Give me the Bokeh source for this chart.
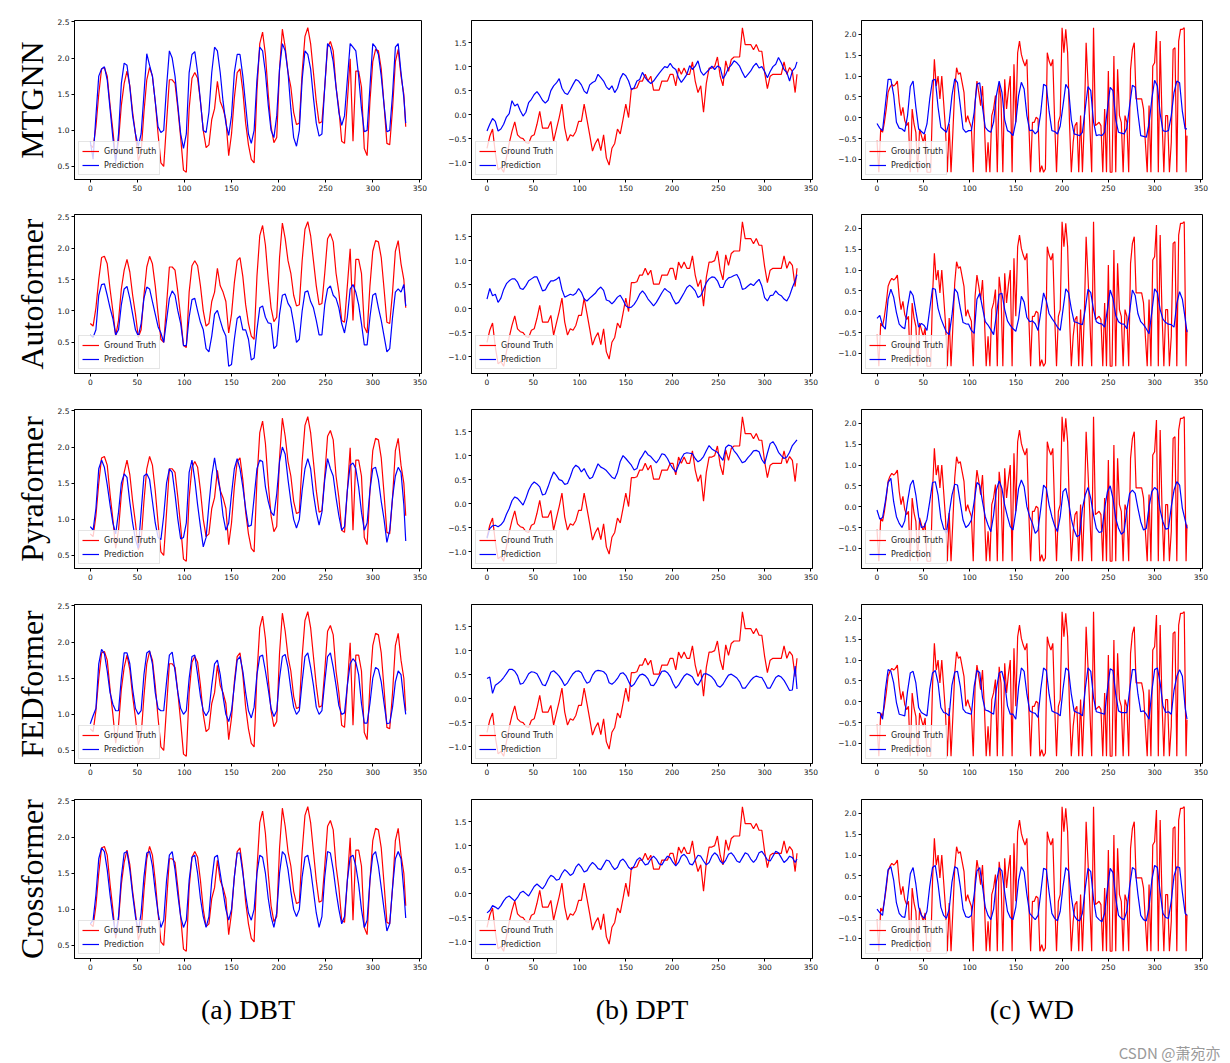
from bokeh.plotting import figure
from bokeh.layouts import gridplot
from bokeh.models import (Range1d, FixedTicker, CustomJSTickFormatter, Title,
                          Legend, LegendItem)
from bokeh.embed import file_html
from bokeh.resources import INLINE

# ---------------- data ----------------
models = ["MTGNN", "Autoformer", "Pyraformer", "FEDformer", "Crossformer"]
datasets = ["(a) DBT", "(b) DPT", "(c) WD"]
x_ticks = [0, 50, 100, 150, 200, 250, 300, 350]
y_ticks_dbt = [0.0, 0.5, 1.0, 1.5, 2.0, 2.5]
y_ticks_dpt = [-1.0, -0.5, 0.0, 0.5, 1.0, 1.5]
y_ticks_wd = [-1.0, -0.5, 0.0, 0.5, 1.0, 1.5, 2.0]
watermark = "CSDN @萧宛亦"

# time steps (sampled every 3 steps, plus the last step)
t3 = list(range(0, 334, 3)) + [335]
# time steps for the spiky WD ground truth (every 2 steps, plus the last step)
t2 = list(range(0, 335, 2)) + [335]

dbt_truth = [0.80, 0.76, 1.05, 1.50, 1.85, 1.87, 1.75, 1.35, 1.00, 0.60,
 0.85, 1.35, 1.65, 1.82, 1.62, 1.25, 0.95, 0.58,
 0.70, 1.25, 1.70, 1.87, 1.75, 1.40, 0.95, 0.55,
 0.50, 1.10, 1.70, 1.70, 1.65, 1.30, 0.90, 0.45,
 0.42, 1.30, 1.72, 1.80, 1.72, 1.40, 1.00, 0.76,
 0.80, 1.15, 1.30, 1.68, 1.40, 1.30, 1.15, 0.65,
 0.95, 1.45, 1.80, 1.85, 1.55, 1.10, 0.80, 0.60,
 0.55, 1.55, 2.20, 2.36, 2.05, 1.50, 1.05, 0.83,
 0.90, 1.85, 2.40, 2.15, 1.80, 1.60, 1.25, 1.08,
 1.10, 1.80, 2.30, 2.42, 2.20, 1.80, 1.40, 1.10,
 1.12, 1.60, 2.15, 2.23, 2.10, 1.60, 1.30, 0.85,
 0.82, 1.40, 1.99, 0.85, 1.82, 1.82, 1.60, 0.75,
 0.65, 1.40, 1.95, 2.12, 2.10, 1.85, 1.35, 0.82,
 0.80, 1.30, 1.95, 2.12, 1.75, 1.50, 1.05]

mtgnn_dbt = [0.85, 0.60, 1.20, 1.75, 1.85, 1.88, 1.70, 1.30, 0.90, 0.55,
 0.95, 1.65, 1.93, 1.90, 1.60, 1.20, 0.95, 0.78,
 0.95, 1.50, 2.06, 1.90, 1.75, 1.40, 1.05, 0.97,
 1.00, 1.60, 2.10, 2.00, 1.75, 1.35, 0.95, 0.75,
 0.95, 1.80, 2.05, 2.09, 1.80, 1.40, 1.00, 0.97,
 1.25, 1.80, 2.15, 2.10, 1.80, 1.40, 1.10, 0.93,
 1.20, 1.80, 2.05, 2.05, 1.75, 1.35, 0.95, 0.82,
 1.00, 1.70, 2.15, 2.10, 1.80, 1.35, 1.00, 0.90,
 1.20, 1.85, 2.20, 2.10, 1.80, 1.30, 0.90, 0.78,
 1.00, 1.70, 2.10, 2.05, 1.85, 1.45, 1.10, 0.92,
 0.95, 1.60, 2.20, 2.15, 1.95, 1.60, 1.25, 1.07,
 1.20, 1.70, 2.20, 2.15, 2.10, 1.75, 1.30, 0.98,
 1.00, 1.60, 2.20, 2.15, 2.05, 1.75, 1.35, 0.98,
 1.00, 1.50, 2.15, 2.20, 1.80, 1.45, 1.10]

auto_dbt = [0.62, 0.58, 0.70, 1.25, 1.42, 1.43, 1.25, 1.05, 0.88, 0.62,
 0.70, 1.10, 1.35, 1.39, 1.20, 0.95, 0.70, 0.60,
 0.80, 1.20, 1.38, 1.35, 1.15, 0.95, 0.75, 0.65,
 0.50, 0.85, 1.20, 1.32, 1.25, 1.00, 0.80, 0.45,
 0.45, 0.90, 1.18, 1.20, 1.00, 0.82, 0.70, 0.40,
 0.35, 0.60, 0.95, 1.01, 0.85, 0.70, 0.60, 0.12,
 0.15, 0.55, 0.88, 0.92, 0.70, 0.70, 0.55, 0.22,
 0.25, 0.70, 1.05, 1.08, 0.90, 0.81, 0.80, 0.40,
 0.45, 0.95, 1.25, 1.27, 1.12, 1.05, 0.80, 0.50,
 0.55, 1.00, 1.30, 1.32, 1.15, 1.05, 0.85, 0.62,
 0.62, 1.10, 1.35, 1.40, 1.25, 1.20, 1.05, 0.80,
 0.65, 0.90, 1.35, 1.42, 1.30, 1.10, 0.80, 0.46,
 0.46, 0.90, 1.25, 1.28, 1.05, 0.85, 0.60, 0.35,
 0.40, 0.90, 1.30, 1.35, 1.30, 1.42, 1.08]

pyra_dbt = [0.90, 0.85, 1.15, 1.70, 1.82, 1.72, 1.48, 1.20, 0.95, 0.80,
 1.10, 1.50, 1.63, 1.58, 1.24, 0.95, 0.72, 0.60,
 1.10, 1.60, 1.63, 1.55, 1.25, 0.95, 0.75, 0.72,
 1.05, 1.50, 1.70, 1.65, 1.35, 1.00, 0.73, 0.75,
 0.95, 1.65, 1.82, 1.55, 1.20, 0.90, 0.62, 0.75,
 1.20, 1.60, 1.85, 1.60, 1.40, 1.05, 0.85, 0.95,
 1.35, 1.70, 1.84, 1.70, 1.45, 1.15, 0.90, 0.92,
 1.30, 1.70, 1.82, 1.80, 1.45, 1.25, 1.10, 1.05,
 1.35, 1.80, 2.00, 1.90, 1.55, 1.25, 1.00, 0.88,
 1.00, 1.40, 1.70, 1.84, 1.70, 1.35, 1.10, 0.92,
 1.10, 1.55, 1.84, 1.70, 1.60, 1.30, 1.05, 0.85,
 0.90, 1.40, 1.75, 1.78, 1.70, 1.45, 1.10, 0.85,
 0.95, 1.40, 1.70, 1.72, 1.55, 1.25, 1.00, 0.68,
 0.85, 1.30, 1.60, 1.72, 1.65, 1.20, 0.70]

fed_dbt = [0.87, 0.98, 1.08, 1.70, 1.90, 1.84, 1.60, 1.30, 1.14, 1.05,
 1.05, 1.50, 1.85, 1.85, 1.70, 1.35, 1.08, 1.00,
 1.05, 1.55, 1.85, 1.88, 1.70, 1.30, 1.08, 1.05,
 1.05, 1.45, 1.82, 1.86, 1.60, 1.30, 1.08, 1.00,
 1.05, 1.50, 1.80, 1.82, 1.55, 1.25, 1.05, 0.98,
 1.05, 1.40, 1.70, 1.75, 1.55, 1.25, 1.00, 0.90,
 1.05, 1.40, 1.75, 1.80, 1.60, 1.30, 1.05, 0.95,
 1.10, 1.55, 1.80, 1.82, 1.60, 1.35, 1.08, 0.97,
 1.05, 1.50, 1.80, 1.83, 1.65, 1.35, 1.10, 1.00,
 1.05, 1.45, 1.80, 1.85, 1.65, 1.40, 1.10, 1.00,
 1.05, 1.45, 1.80, 1.85, 1.65, 1.40, 1.12, 1.00,
 1.02, 1.40, 1.70, 1.77, 1.72, 1.55, 1.15, 0.88,
 0.88, 1.15, 1.50, 1.65, 1.62, 1.45, 1.15, 0.87,
 0.88, 1.10, 1.45, 1.60, 1.55, 1.20, 1.00]

cross_dbt = [0.80, 0.85, 1.20, 1.70, 1.85, 1.80, 1.55, 1.20, 0.90, 0.65,
 0.90, 1.45, 1.78, 1.80, 1.55, 1.20, 0.90, 0.70,
 0.95, 1.45, 1.78, 1.80, 1.60, 1.25, 0.95, 0.75,
 0.85, 1.40, 1.75, 1.80, 1.55, 1.20, 0.90, 0.75,
 0.85, 1.40, 1.72, 1.75, 1.50, 1.15, 0.90, 0.75,
 0.90, 1.40, 1.72, 1.75, 1.50, 1.25, 1.00, 0.85,
 1.00, 1.45, 1.78, 1.78, 1.50, 1.20, 0.95, 0.85,
 1.00, 1.50, 1.75, 1.72, 1.50, 1.15, 0.90, 0.75,
 0.95, 1.50, 1.80, 1.75, 1.55, 1.25, 1.00, 0.90,
 1.00, 1.45, 1.72, 1.75, 1.55, 1.25, 0.95, 0.75,
 0.90, 1.45, 1.80, 1.78, 1.55, 1.25, 1.00, 0.80,
 0.90, 1.40, 1.72, 1.75, 1.60, 1.35, 1.00, 0.75,
 0.85, 1.40, 1.75, 1.80, 1.60, 1.30, 1.00, 0.70,
 0.80, 1.30, 1.70, 1.80, 1.70, 1.25, 0.88]

dpt_truth = [-0.70, -0.45, -0.30, -0.80, -1.15, -1.10, -1.20, -0.90, -0.60, -0.35,
 -0.15, -0.42, -0.48, -0.50, -0.58, -0.60, -0.45, -0.42,
 -0.20, 0.07, -0.28, -0.28, -0.28, -0.14, -0.55, -0.30,
 -0.06, 0.22, -0.28, -0.55, -0.42, -0.45, -0.35, -0.14,
 -0.14, 0.22, -0.10, -0.42, -0.76, -0.60, -0.50, -0.75,
 -0.42, -0.90, -1.05, -0.70, -0.60, -0.30, -0.40, -0.10,
 0.22, -0.06, 0.54, 0.54, 0.56, 0.70, 0.70, 0.84,
 0.70, 0.80, 0.51, 0.51, 0.51, 0.70, 0.70, 0.70,
 0.84, 0.84, 0.60, 0.97, 0.84, 0.97, 0.84, 0.84,
 1.10, 0.70, 0.46, 0.60, 0.05, 0.65, 0.97, 0.97,
 1.00, 1.20, 0.80, 0.60, 1.12, 0.90, 1.15, 1.20,
 1.20, 1.20, 1.81, 1.46, 1.46, 1.46, 1.35, 1.46,
 1.32, 1.32, 0.88, 0.54, 0.80, 0.84, 0.84, 0.84,
 0.84, 1.10, 0.84, 0.98, 0.90, 0.46, 0.84]

mtgnn_dpt = [-0.34, -0.20, -0.08, -0.14, -0.34, -0.30, -0.20, -0.05, 0.02, 0.29,
 0.18, 0.22, 0.08, -0.03, 0.05, 0.25, 0.32, 0.42,
 0.48, 0.40, 0.30, 0.24, 0.30, 0.50, 0.60, 0.66,
 0.75, 0.55, 0.45, 0.42, 0.52, 0.63, 0.73, 0.70,
 0.62, 0.49, 0.44, 0.62, 0.67, 0.70, 0.84, 0.77,
 0.70, 0.58, 0.52, 0.60, 0.46, 0.55, 0.75, 0.86,
 0.81, 0.70, 0.52, 0.56, 0.70, 0.73, 0.88, 0.77,
 0.70, 0.65, 0.70, 0.78, 0.86, 0.93, 1.00, 0.98,
 1.07, 0.98, 0.94, 0.77, 0.67, 0.75, 0.84, 1.02,
 0.94, 1.01, 1.12, 0.90, 0.82, 0.88, 0.94, 1.01,
 0.94, 1.01, 0.98, 0.75, 0.84, 0.97, 1.03, 1.12,
 1.08, 1.01, 0.88, 0.77, 0.84, 0.91, 1.01, 1.07,
 0.97, 1.00, 0.90, 0.77, 0.90, 1.00, 1.05, 1.19,
 1.08, 0.94, 0.88, 0.70, 0.91, 0.98, 1.10]

auto_dpt = [0.20, 0.42, 0.27, 0.30, 0.13, 0.22, 0.40, 0.52, 0.58, 0.62,
 0.62, 0.55, 0.42, 0.40, 0.48, 0.58, 0.62, 0.66,
 0.66, 0.52, 0.37, 0.39, 0.50, 0.58, 0.58, 0.61,
 0.66, 0.40, 0.24, 0.27, 0.30, 0.28, 0.32, 0.42,
 0.34, 0.20, 0.16, 0.22, 0.27, 0.32, 0.40, 0.45,
 0.38, 0.18, 0.16, 0.10, 0.16, 0.24, 0.28, 0.18,
 0.06, 0.02, 0.03, 0.09, 0.18, 0.30, 0.37, 0.30,
 0.20, 0.13, 0.06, 0.13, 0.23, 0.33, 0.42, 0.37,
 0.33, 0.20, 0.10, 0.13, 0.23, 0.33, 0.44, 0.49,
 0.44, 0.37, 0.23, 0.27, 0.40, 0.54, 0.62, 0.66,
 0.65, 0.58, 0.44, 0.44, 0.58, 0.64, 0.66, 0.69,
 0.71, 0.60, 0.40, 0.42, 0.47, 0.52, 0.48, 0.55,
 0.61, 0.47, 0.23, 0.16, 0.27, 0.28, 0.37, 0.30,
 0.27, 0.20, 0.16, 0.27, 0.44, 0.58, 0.71]

pyra_dpt = [-0.72, -0.52, -0.46, -0.45, -0.48, -0.44, -0.37, -0.22, -0.10, 0.06,
 0.14, 0.11, 0.04, -0.03, 0.11, 0.28, 0.39, 0.45,
 0.41, 0.35, 0.18, 0.20, 0.35, 0.52, 0.66, 0.59,
 0.50, 0.48, 0.40, 0.42, 0.56, 0.73, 0.80, 0.76,
 0.66, 0.73, 0.61, 0.52, 0.55, 0.69, 0.83, 0.76,
 0.73, 0.69, 0.62, 0.55, 0.52, 0.65, 0.88, 1.00,
 0.94, 0.87, 0.80, 0.70, 0.73, 0.91, 1.00, 1.10,
 1.02, 0.98, 0.91, 0.85, 0.93, 1.04, 1.02, 0.94,
 0.82, 0.73, 0.66, 0.80, 0.94, 1.04, 1.06, 1.05,
 1.04, 0.94, 0.87, 0.91, 0.98, 1.10, 1.21, 1.14,
 1.10, 1.07, 0.98, 0.90, 1.17, 1.22, 1.20, 1.10,
 1.03, 0.94, 0.85, 0.88, 0.96, 1.02, 1.10, 1.11,
 1.08, 0.92, 0.83, 1.05, 1.25, 1.29, 1.20, 1.07,
 1.00, 0.94, 0.97, 1.07, 1.21, 1.28, 1.33]

fed_dpt = [0.42, 0.45, 0.11, 0.28, 0.32, 0.37, 0.44, 0.52, 0.61, 0.61,
 0.57, 0.48, 0.30, 0.32, 0.41, 0.52, 0.56, 0.55,
 0.52, 0.41, 0.29, 0.27, 0.40, 0.55, 0.58, 0.53,
 0.47, 0.38, 0.27, 0.33, 0.43, 0.52, 0.57, 0.58,
 0.54, 0.42, 0.32, 0.35, 0.49, 0.57, 0.59, 0.58,
 0.56, 0.50, 0.33, 0.30, 0.35, 0.42, 0.52, 0.54,
 0.48, 0.36, 0.25, 0.30, 0.40, 0.49, 0.51, 0.48,
 0.41, 0.28, 0.27, 0.35, 0.47, 0.57, 0.58, 0.54,
 0.46, 0.32, 0.22, 0.28, 0.38, 0.47, 0.52, 0.49,
 0.45, 0.33, 0.28, 0.38, 0.51, 0.52, 0.49, 0.45,
 0.38, 0.27, 0.24, 0.30, 0.40, 0.49, 0.51, 0.47,
 0.43, 0.35, 0.22, 0.22, 0.30, 0.38, 0.44, 0.47,
 0.45, 0.44, 0.34, 0.22, 0.22, 0.33, 0.44, 0.48,
 0.45, 0.38, 0.28, 0.17, 0.18, 0.68, 0.20]

cross_dpt = [-0.40, -0.35, -0.25, -0.28, -0.32, -0.25, -0.15, -0.08, -0.05, -0.10,
 -0.15, -0.08, 0.02, 0.05, 0.00, -0.05, 0.05, 0.15,
 0.20, 0.15, 0.10, 0.18, 0.30, 0.38, 0.35, 0.28,
 0.30, 0.42, 0.50, 0.45, 0.38, 0.42, 0.55, 0.62,
 0.55, 0.45, 0.48, 0.58, 0.65, 0.60, 0.52, 0.50,
 0.60, 0.70, 0.68, 0.58, 0.50, 0.55, 0.68, 0.72,
 0.65, 0.55, 0.50, 0.58, 0.70, 0.75, 0.68, 0.60,
 0.62, 0.72, 0.78, 0.72, 0.62, 0.60, 0.70, 0.78,
 0.75, 0.65, 0.58, 0.65, 0.78, 0.82, 0.75, 0.62,
 0.60, 0.70, 0.80, 0.78, 0.68, 0.60, 0.65, 0.78,
 0.85, 0.80, 0.68, 0.62, 0.70, 0.82, 0.85, 0.78,
 0.68, 0.65, 0.75, 0.85, 0.82, 0.72, 0.65, 0.72,
 0.85, 0.88, 0.80, 0.70, 0.68, 0.78, 0.88, 0.85,
 0.75, 0.65, 0.70, 0.78, 0.75, 0.65, 0.72]

wd_truth = [-0.55, -1.31, -0.27, -0.35, -0.11, 0.21, 0.61, 0.73, 0.80, 0.76,
 0.80, 0.88, 0.37, 0.05, 0.25, -0.07, -0.19, -0.11, -1.31, 0.21,
 -0.15, -0.35, -1.31, -0.27, -0.43, -0.59, -0.39, -1.31, -1.31, -1.31,
 0.37, 1.40, 0.76, 1.00, 0.45, 1.00, 0.37, -0.27, -1.31, -0.15,
 -1.31, -0.35, 0.69, 1.20, 1.04, 1.08, 0.84, 0.61, -0.11, 0.05,
 -0.11, -0.23, -1.31, 0.37, 0.88, 0.61, 0.29, 0.76, -0.11, -1.31,
 -0.59, -1.31, 0.05, 0.21, 0.53, -1.31, 0.84, 0.45, -1.31, 0.92,
 0.21, 0.65, 1.00, -1.31, 1.28, -0.11, 1.56, 1.84, 1.52, 1.36,
 1.24, 1.40, -0.11, -1.31, -0.11, -0.11, 0.01, -0.03, -1.31, -1.15,
 -1.31, -1.23, 1.56, 1.36, 1.24, 1.40, -0.11, -1.31, -0.11, 0.05,
 2.16, 1.56, 2.12, 1.56, -0.11, -1.31, -0.59, -0.19, -0.11, -1.31,
 0.05, -1.31, -0.11, 1.80, 0.84, -0.19, -1.31, 2.16, -0.19, -0.15,
 -0.11, -0.19, -1.31, 0.21, -1.31, 1.12, -1.31, -1.31, 1.48, -1.31,
 1.16, 0.05, -0.11, -1.31, 0.05, -0.11, -1.31, 1.16, 1.64, 1.80,
 0.45, 0.45, 0.45, 0.45, 0.21, -0.59, -1.31, 0.29, -1.31, 1.24,
 1.32, 2.08, -1.31, 1.84, -0.03, -1.31, 0.05, 0.05, -1.31, -0.59,
 1.64, 1.68, -1.31, 1.84, 2.12, 2.12, 2.16, -1.31,
 -0.43]

mtgnn_wd = [-0.14, -0.25, -0.31, 0.30, 0.92, 0.92, 0.55, -0.11, -0.25, -0.27,
 -0.33, 0.05, 0.75, 0.88, 0.25, -0.27, -0.33, -0.39,
 -0.15, 0.45, 0.90, 0.92, 0.25, -0.23, -0.29, -0.35,
 -0.10, 0.53, 0.93, 0.84, 0.30, -0.27, -0.35, -0.31,
 -0.31, 0.13, 0.80, 0.84, 0.25, -0.23, -0.31, -0.35,
 -0.10, 0.53, 0.88, 0.61, -0.05, -0.31, -0.35, -0.43,
 -0.10, 0.53, 0.85, 0.69, 0.05, -0.31, -0.30, -0.39,
 -0.32, 0.13, 0.80, 0.76, 0.15, -0.31, -0.33, -0.39,
 -0.20, 0.29, 0.80, 0.69, -0.05, -0.39, -0.41, -0.43,
 -0.35, 0.21, 0.75, 0.65, -0.10, -0.43, -0.41, -0.43,
 -0.35, 0.21, 0.73, 0.65, -0.05, -0.35, -0.37, -0.39,
 -0.25, 0.29, 0.78, 0.73, 0.10, -0.43, -0.45, -0.47,
 -0.15, 0.45, 0.90, 0.76, 0.10, -0.31, -0.33, -0.31,
 0.05, 0.61, 0.88, 0.84, 0.15, -0.27, -0.27]

auto_wd = [-0.16, -0.09, -0.33, -0.42, 0.30, 0.54, 0.35, -0.02, -0.30, -0.37,
 -0.41, 0.11, 0.50, 0.39, 0.00, -0.37, -0.28, -0.33,
 -0.45, 0.06, 0.56, 0.54, 0.08, -0.16, -0.33, -0.49,
 -0.55, -0.09, 0.55, 0.46, 0.08, -0.26, -0.29, -0.30,
 -0.45, -0.52, 0.30, 0.44, 0.10, -0.24, -0.32, -0.43,
 -0.55, -0.09, 0.42, 0.44, 0.05, -0.22, -0.33, -0.41,
 -0.47, -0.18, 0.37, 0.23, -0.14, -0.24, -0.22, -0.29,
 -0.45, -0.01, 0.45, 0.26, -0.05, -0.16, -0.26, -0.37,
 -0.45, 0.05, 0.55, 0.46, 0.07, -0.24, -0.26, -0.29,
 -0.31, 0.05, 0.54, 0.46, 0.05, -0.24, -0.28, -0.29,
 -0.37, 0.05, 0.52, 0.32, -0.09, -0.24, -0.29, -0.30,
 -0.41, -0.01, 0.52, 0.39, -0.05, -0.24, -0.31, -0.41,
 -0.53, -0.01, 0.55, 0.46, 0.05, -0.18, -0.26, -0.30,
 -0.31, -0.37, 0.20, 0.48, 0.30, -0.16, -0.49]

pyra_wd = [-0.08, -0.30, -0.26, 0.12, 0.58, 0.68, 0.12, -0.24, -0.40, -0.50,
 -0.34, 0.12, 0.52, 0.64, 0.28, -0.24, -0.50, -0.48,
 -0.30, 0.12, 0.58, 0.60, 0.28, -0.28, -0.52, -0.64,
 -0.16, 0.28, 0.54, 0.52, 0.10, -0.32, -0.50, -0.44,
 -0.32, 0.12, 0.58, 0.52, 0.12, -0.24, -0.44, -0.60,
 -0.20, 0.40, 0.62, 0.44, 0.04, -0.24, -0.48, -0.56,
 -0.12, 0.44, 0.64, 0.48, 0.00, -0.24, -0.40, -0.64,
 -0.56, -0.04, 0.52, 0.44, 0.04, -0.24, -0.46, -0.60,
 -0.24, 0.36, 0.44, 0.12, -0.30, -0.56, -0.72, -0.68,
 -0.04, 0.28, 0.46, 0.20, -0.20, -0.52, -0.62, -0.60,
 -0.04, 0.36, 0.50, 0.20, -0.28, -0.52, -0.66, -0.60,
 -0.08, 0.32, 0.40, 0.32, -0.04, -0.36, -0.56, -0.52,
 0.00, 0.36, 0.46, 0.40, -0.08, -0.36, -0.54, -0.52,
 0.00, 0.40, 0.60, 0.52, -0.04, -0.32, -0.52]

fed_wd = [-0.26, -0.26, -0.42, 0.28, 0.77, 0.73, 0.45, -0.02, -0.30, -0.32,
 -0.34, 0.25, 0.69, 0.73, 0.45, -0.14, -0.26, -0.30,
 -0.34, 0.30, 0.69, 0.75, 0.45, -0.14, -0.26, -0.28,
 -0.34, 0.40, 0.71, 0.73, 0.37, -0.18, -0.26, -0.28,
 -0.30, 0.37, 0.75, 0.70, 0.10, -0.20, -0.22, -0.26,
 -0.30, 0.30, 0.69, 0.73, 0.45, -0.10, -0.30, -0.30,
 -0.42, 0.35, 0.81, 0.73, 0.18, -0.22, -0.26, -0.28,
 -0.38, 0.30, 0.81, 0.75, 0.18, -0.22, -0.26, -0.28,
 -0.34, 0.30, 0.81, 0.75, 0.18, -0.22, -0.26, -0.28,
 -0.34, 0.30, 0.81, 0.73, 0.10, -0.24, -0.26, -0.28,
 -0.30, 0.30, 0.79, 0.75, 0.18, -0.22, -0.26, -0.26,
 -0.26, 0.28, 0.77, 0.77, 0.18, -0.24, -0.22, -0.30,
 -0.42, 0.25, 0.77, 0.81, 0.45, -0.10, -0.26, -0.24,
 -0.30, 0.28, 0.61, 0.77, 0.61, -0.14, -0.42]

cross_wd = [-0.30, -0.38, -0.45, 0.10, 0.65, 0.72, 0.40, -0.15, -0.40, -0.48,
 -0.50, -0.05, 0.55, 0.70, 0.30, -0.25, -0.45, -0.52,
 -0.35, 0.25, 0.70, 0.75, 0.30, -0.25, -0.45, -0.52,
 -0.30, 0.35, 0.72, 0.68, 0.25, -0.30, -0.48, -0.50,
 -0.45, 0.05, 0.62, 0.70, 0.25, -0.25, -0.45, -0.55,
 -0.30, 0.35, 0.70, 0.62, 0.10, -0.35, -0.50, -0.55,
 -0.25, 0.40, 0.72, 0.60, 0.05, -0.40, -0.48, -0.55,
 -0.45, 0.10, 0.68, 0.65, 0.10, -0.40, -0.52, -0.58,
 -0.35, 0.25, 0.70, 0.62, 0.00, -0.45, -0.55, -0.58,
 -0.40, 0.20, 0.68, 0.60, -0.05, -0.48, -0.55, -0.60,
 -0.40, 0.20, 0.68, 0.58, -0.05, -0.45, -0.52, -0.55,
 -0.35, 0.25, 0.70, 0.65, 0.05, -0.45, -0.55, -0.58,
 -0.25, 0.40, 0.75, 0.70, 0.10, -0.40, -0.50, -0.52,
 -0.10, 0.50, 0.72, 0.70, 0.10, -0.40, -0.45]

truths = [(t3, dbt_truth), (t3, dpt_truth), (t2, wd_truth)]
preds = [
    [mtgnn_dbt, mtgnn_dpt, mtgnn_wd],
    [auto_dbt, auto_dpt, auto_wd],
    [pyra_dbt, pyra_dpt, pyra_wd],
    [fed_dbt, fed_dpt, fed_wd],
    [cross_dbt, cross_dpt, cross_wd],
]
y_ticks = [y_ticks_dbt, y_ticks_dpt, y_ticks_wd]

# ---------------- layout ----------------
COL_W = [440, 390, 392]
COL_BL = [74, 31, 31]
COL_BR = [19, 18, 20]
FRAME_H = 159
TICK_FMT = CustomJSTickFormatter(code="return tick.toFixed(1).replace('-', '\u2212');")


def panel(r, c):
    tg, gt = truths[c]
    pr = preds[r][c]
    xs_g = tg[:len(gt)]
    gt = gt[:len(xs_g)]
    xs_p = t3[:len(pr)]
    pr = pr[:len(xs_p)]
    lo = min(min(gt), min(pr))
    hi = max(max(gt), max(pr))
    pad = 0.05 * (hi - lo)
    x_lo, x_hi = 0, 335
    xpad = 0.05 * (x_hi - x_lo)
    last = (r == 4)
    top = 20 if r == 0 else 11
    bottom = 24 if r == 0 else (104 if last else 25)
    p = figure(width=COL_W[c], height=top + FRAME_H + bottom,
               output_backend="svg", toolbar_location=None,
               x_range=Range1d(x_lo - xpad, x_hi + xpad),
               y_range=Range1d(lo - pad, hi + pad),
               min_border_left=COL_BL[c], min_border_right=COL_BR[c],
               min_border_top=top, min_border_bottom=bottom)
    p.background_fill_color = "white"
    p.border_fill_color = "white"
    p.outline_line_color = "black"
    p.outline_line_width = 1
    p.xgrid.grid_line_color = None
    p.ygrid.grid_line_color = None
    p.xaxis.ticker = FixedTicker(ticks=x_ticks)
    p.yaxis.ticker = FixedTicker(ticks=y_ticks[c])
    p.yaxis.formatter = TICK_FMT
    for ax in (p.xaxis, p.yaxis):
        ax.axis_line_color = "black"
        ax.major_tick_line_color = "black"
        ax.major_tick_out = 3
        ax.major_tick_in = 0
        ax.minor_tick_line_color = None
        ax.major_label_text_font = "DejaVu Sans"
        ax.major_label_text_font_size = "7.5px"
        ax.major_label_text_color = "#111111"
        ax.major_label_standoff = 2

    r1 = p.line(xs_g, gt, line_color="#ff0000", line_width=1.2)
    r2 = p.line(xs_p, pr, line_color="#0000ff", line_width=1.2)
    legend = Legend(items=[LegendItem(label="Ground Truth", renderers=[r1]),
                           LegendItem(label="Prediction", renderers=[r2])],
                    location="bottom_left",
                    label_text_font="DejaVu Sans", label_text_font_size="8px",
                    label_text_color="#222222",
                    label_height=12, glyph_height=12, glyph_width=17,
                    spacing=2, padding=3, margin=4, label_standoff=5,
                    border_line_color="#cccccc", border_line_width=1,
                    background_fill_alpha=0.8)
    p.add_layout(legend)

    if c == 0:
        p.add_layout(Title(text=models[r], align="center",
                           text_font="Liberation Serif", text_font_size="32px",
                           text_font_style="normal", text_color="black"), "left")
    if last:
        p.add_layout(Title(text=datasets[c], align="center",
                           text_font="Liberation Serif", text_font_size="28px",
                           text_font_style="normal", text_color="black",
                           standoff=38), "below")
        if c == 2:
            p.add_layout(Title(text=watermark, align="right", offset=-18,
                               text_font="Noto Sans CJK SC", text_font_size="15px",
                               text_font_style="normal", text_color="#9a9a9a",
                               standoff=-8), "below")
    return p


grid = [[panel(r, c) for c in range(3)] for r in range(5)]
layout = gridplot(grid, toolbar_location=None)

open("out.html", "w").write(file_html(layout, INLINE))
